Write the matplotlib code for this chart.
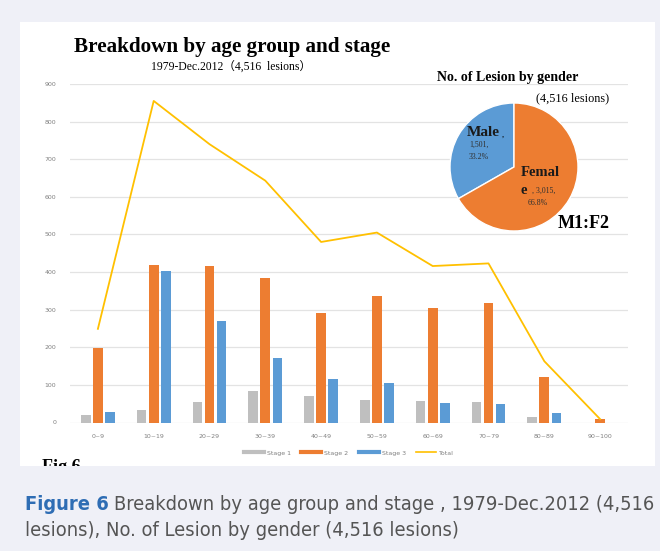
import numpy as np
import matplotlib.pyplot as plt
from matplotlib.patches import Rectangle
from matplotlib.lines import Line2D

# Lesion counts by age group and stage, 1979-Dec.2012
ages = ["0~9", "10~19", "20~29", "30~39", "40~49", "50~59",
        "60~69", "70~79", "80~89", "90~100"]
stage1 = [20, 33, 54, 83, 70, 61, 57, 55, 15, 0]
stage2 = [197, 418, 416, 383, 291, 336, 304, 318, 122, 9]
stage3 = [28, 402, 269, 172, 116, 104, 51, 49, 25, 0]
total = [249, 855, 740, 643, 480, 505, 416, 423, 163, 9]

# Lesions by gender
genders = ["Male", "Female"]
gender_counts = [1501, 3015]

W, H = 660, 551
bg = "#eff0f7"
c1, c2, c3, ct = "#bfbfbf", "#ed7d31", "#5b9bd5", "#ffc000"
serif = "Liberation Serif"

fig = plt.figure(figsize=(W / 100, H / 100), dpi=100, facecolor=bg)

def fx(px):
    return px / W

def fy(py):
    return 1 - py / H

# white panel holding the chart
panel = Rectangle((fx(20), fy(466)), fx(655) - fx(20), fy(22) - fy(466),
                  transform=fig.transFigure, facecolor="white",
                  edgecolor="none", zorder=-5)
fig.patches.append(panel)

ax = fig.add_axes([fx(70), fy(422.5), fx(628) - fx(70), fy(84) - fy(422.5)])
ax.set_facecolor("none")
x = np.arange(len(ages))
bw, step = 0.175, 0.217
ax.bar(x - step, stage1, bw, color=c1, zorder=2)
ax.bar(x, stage2, bw, color=c2, zorder=2)
ax.bar(x + step, stage3, bw, color=c3, zorder=2)
ax.plot(x, total, color=ct, lw=1.3, zorder=3)

ax.set_xlim(-0.5, len(ages) - 0.5)
ax.set_ylim(0, 900)
ax.set_yticks(range(0, 901, 100))
ax.grid(axis="y", color="#e3e3e3", lw=0.9, zorder=0)
ax.set_axisbelow(True)
for s in ax.spines.values():
    s.set_visible(False)
ax.set_xticks(x)
ax.set_xticklabels(ages)
ax.tick_params(length=0, labelsize=4.5, labelcolor="#808080", pad=8)
ax.tick_params(axis="y", pad=10)

# thick strokes stand in for the bars in the legend
handles = [Line2D([], [], color=c, lw=w) for c, w in
           zip([c1, c2, c3, ct], [3, 3, 3, 1.2])]
leg = ax.legend(handles, ["Stage 1", "Stage 2", "Stage 3", "Total"],
                loc="upper center", bbox_to_anchor=(0.5, -0.065), ncol=4,
                frameon=False, fontsize=4.5, handlelength=3.2,
                columnspacing=1.6, handletextpad=0.5)
for t in leg.get_texts():
    t.set_color("#808080")

fig.text(fx(232), fy(47), "Breakdown by age group and stage", family=serif,
         weight="bold", fontsize=15.2, ha="center", va="center")
fig.text(fx(231), fy(68), "1979-Dec.2012（4,516  lesions）",
         family=[serif, "Noto Sans CJK JP"], fontsize=8.4, ha="center",
         va="center")

fig.text(fx(42), fy(476), "Fig 6", family=serif, weight="bold",
         fontsize=13, ha="left", va="bottom", zorder=3)
# strip below the panel hides the lower half of the label
fig.patches.append(Rectangle((0, 0), 1, fy(466), transform=fig.transFigure,
                             facecolor=bg, edgecolor="none", zorder=4))

# gender pie
cx, cy, r = 514, 167, 64
pax = fig.add_axes([fx(cx - r), fy(cy + r), fx(2 * r), fy(0) - fy(2 * r)])
pax.pie(gender_counts, colors=[c3, c2], startangle=90, counterclock=True,
        wedgeprops=dict(edgecolor="white", linewidth=1))
pax.set_xlim(-1, 1)
pax.set_ylim(-1, 1)
pax.set_aspect("auto")

fig.text(fx(508), fy(77), "No. of Lesion by gender", family=serif,
         weight="bold", fontsize=10, ha="center", va="center")
fig.text(fx(573), fy(98), "(4,516 lesions)", family=serif, fontsize=8.8,
         ha="center", va="center")
pct = [v / sum(gender_counts) * 100 for v in gender_counts]
fig.text(fx(483), fy(133), "Male", family=serif, weight="bold",
         fontsize=11, ha="center", va="center", color="#1a1a1a")
fig.text(fx(503), fy(135), ",", family=serif, fontsize=6.5, ha="center",
         va="center")
fig.text(fx(479), fy(151), f"{gender_counts[0]:,},\n{pct[0]:.1f}%",
         family=serif, fontsize=5.6, ha="center", va="center",
         linespacing=1.6, color="#303030")
fig.text(fx(540), fy(173), "Femal", family=serif, weight="bold",
         fontsize=10.5, ha="center", va="center", color="#1a1a1a")
fig.text(fx(524), fy(190), "e", family=serif, weight="bold", fontsize=10.5,
         ha="center", va="center", color="#1a1a1a")
fig.text(fx(544), fy(191), f", {gender_counts[1]:,},", family=serif,
         fontsize=5.6, ha="center", va="center", color="#303030")
fig.text(fx(538), fy(203), f"{pct[1]:.1f}%", family=serif, fontsize=5.6,
         ha="center", va="center", color="#303030")
fig.text(fx(584), fy(223), "M1:F2", family=serif, weight="bold",
         fontsize=13, ha="center", va="center")

# caption under the panel
cap_kw = dict(family="DejaVu Sans", stretch="condensed", fontsize=14.4,
              ha="left", va="center", zorder=5)
cap = fig.text(fx(25), fy(505), "Figure 6", weight="bold", color="#2e6db4",
               **cap_kw)
fig.canvas.draw()
bb = cap.get_window_extent()
fig.text(bb.x1 / W + fx(5), fy(505),
         "Breakdown by age group and stage , 1979-Dec.2012 (4,516",
         color="#555555", **cap_kw)
fig.text(fx(25), fy(530), "lesions), No. of Lesion by gender (4,516 lesions)",
         color="#555555", **cap_kw)

fig.savefig("out.png", dpi=100, facecolor=bg)
